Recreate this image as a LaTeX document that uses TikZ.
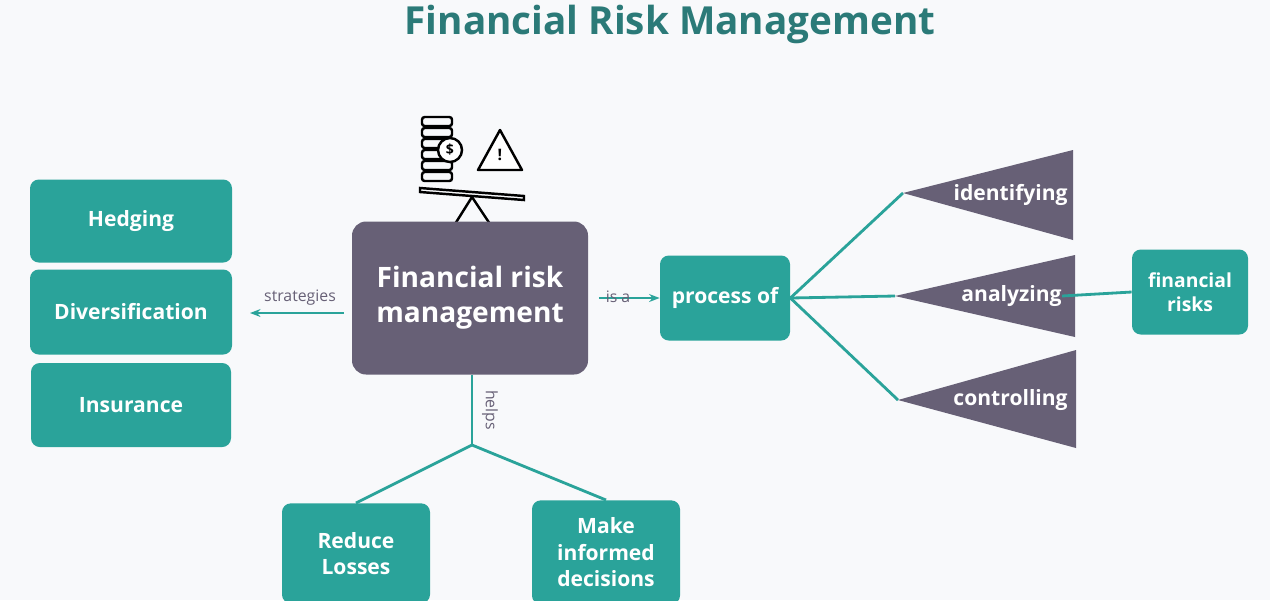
\documentclass[tikz,border=0pt]{standalone}
\usepackage{fontspec}
\setmainfont{Open Sans}
\usetikzlibrary{arrows.meta,positioning}
\definecolor{teal}{HTML}{2AA39A}
\definecolor{slate}{HTML}{676076}
\definecolor{bg}{HTML}{F8F9FB}
\definecolor{titlec}{HTML}{2B7A78}
\tikzset{
   box/.style={fill=teal, rounded corners=5pt, text=white, font=\bfseries\fontsize{12}{15}\selectfont, align=center, inner sep=0pt},
   conn/.style={draw=teal, line width=1.6pt},
   lbl/.style={text=slate, font=\fontsize{9}{11}\selectfont},
   tri/.style={fill=slate},
}
\begin{document}
\begin{tikzpicture}[x=0.02cm, y=-0.02cm]
   % background
   \fill[bg] (0,0) rectangle (1270,600);
   \useasboundingbox (0,0) rectangle (1270,600);

   % title
   \node[text=titlec, font=\bfseries\fontsize{22}{26}\selectfont] (title) at (670,24) {Financial Risk Management};

   % icon
   \begin{scope}[line width=1.4pt, black]
      \draw (420,188) -- (524,196) -- (524,200) -- (420,192) -- cycle;
      \draw (472,197) -- (455,224) -- (490,224) -- cycle;
      \foreach \y in {117,128,139,150,161,172}{%
         \draw[rounded corners=1.5pt] (422,\y) rectangle (452,\y+9);
      }
      \draw[fill=white] (450,150) circle (12);
      \node[font=\bfseries\fontsize{8}{8}\selectfont] (dollar) at (450,150) {\$};
      \draw[fill=white, line join=round] (500,130) -- (522,170) -- (478,170) -- cycle;
      \node[font=\bfseries\fontsize{9}{9}\selectfont] (excl) at (500,155) {!};
   \end{scope}

   % centre
   \node[fill=slate, rounded corners=8pt, minimum width=236*0.02cm, minimum height=153*0.02cm, text=white, align=center, font=\bfseries\fontsize{16}{20}\selectfont] (frm) at (470,298) {Financial risk\\management};

   % strategies
   \node[box, minimum width=202*0.02cm, minimum height=83*0.02cm] (hedging) at (131,221) {Hedging};
   \node[box, minimum width=202*0.02cm, minimum height=85*0.02cm] (divers) at (131,312) {Diversification};
   \node[box, minimum width=200*0.02cm, minimum height=84*0.02cm] (insur) at (131,405) {Insurance};
   \coordinate (stratend) at (250,313);
   \draw[conn, -{Stealth[length=6pt]}] (frm.west |- stratend) ++(-8,0) coordinate (stratbeg) -- (stratend);
   \node[lbl] (stratlbl) at (300,298) {strategies};

   % process
   \node[box, minimum width=130*0.02cm, minimum height=85*0.02cm] (proc) at (725,298) {process of};
   \draw[conn, -{Stealth[length=6pt]}] ([xshift=6pt]frm.east |- proc) -- (proc.west);
   \node[lbl] (isa) at (618,297) {is a};

   % triangles
   \coordinate (tid) at (903,193);
   \coordinate (tan) at (895,296);
   \coordinate (tco) at (898,400);
   \fill[tri] (tid) -- (1073,150) -- (1073,240) -- cycle;
   \fill[tri] (tan) -- (1075,255) -- (1075,337) -- cycle;
   \fill[tri] (tco) -- (1076,350) -- (1076,448) -- cycle;
   \node[box, fill=none, anchor=east] (ident) at (1068,195) {identifying};
   \node[box, fill=none, anchor=east] (analy) at (1062,296) {analyzing};
   \node[box, fill=none, anchor=east] (contr) at (1068,400) {controlling};
   \draw[conn] (proc.east) -- (tid);
   \draw[conn] (proc.east) -- (tan);
   \draw[conn] (proc.east) -- (tco);

   \node[box, minimum width=116*0.02cm, minimum height=85*0.02cm, font=\bfseries\fontsize{11}{14}\selectfont] (risks) at (1190,292) {financial\\risks};
   \draw[conn] (analy.east) -- (risks.west);

   % helps
   \coordinate (split) at (472,445);
   \draw[conn] (frm.south -| split) -- (split);
   \node[lbl, rotate=-90] (helps) at (490,410) {helps};
   \node[box, minimum width=148*0.02cm, minimum height=100*0.02cm, anchor=north] (reduce) at (356,503) {Reduce\\Losses};
   \node[box, minimum width=148*0.02cm, minimum height=104*0.02cm, anchor=north] (decide) at (606,500) {Make\\informed\\decisions};
   \draw[conn] (split) -- (reduce.north);
   \draw[conn] (split) -- (decide.north);
\end{tikzpicture}
\end{document}
